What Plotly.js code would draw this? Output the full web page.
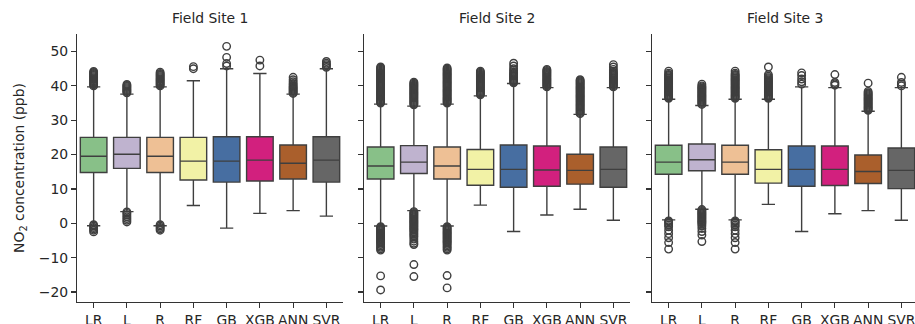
<!DOCTYPE html>
<html>
<head>
<meta charset="utf-8">
<script src="https://cdn.plot.ly/plotly-3.0.1.min.js"></script>
<style>
html, body { margin: 0; padding: 0; overflow: hidden; background: #fff; }
#chart { width: 918px; height: 324px; }
</style>
</head>
<body>
<div id="chart"></div>
<script>
const models = ['LR', 'L', 'R', 'RF', 'GB', 'XGB', 'ANN', 'SVR'];
const siteTitles = ['Field Site 1', 'Field Site 2', 'Field Site 3'];
const yTickValues = [-20, -10, 0, 10, 20, 30, 40, 50];

// Field Site 1
const site1_lowerWhisker = [-0.7, 3.4, -0.7, 5.2, -1.4, 2.9, 3.7, 2.1];
const site1_q1 = [14.8, 16.0, 14.8, 12.6, 12.0, 12.3, 12.9, 12.0];
const site1_median = [19.5, 20.1, 19.5, 18.1, 18.1, 18.4, 17.5, 18.4];
const site1_q3 = [25.0, 25.0, 25.0, 25.0, 25.2, 25.2, 22.8, 25.2];
const site1_upperWhisker = [39.7, 37.6, 39.7, 41.5, 45.0, 43.6, 37.6, 45.0];
const site1_outliers = [
  [40.0, 40.3, 40.6, 40.9, 41.2, 41.5, 41.8, 42.1, 42.4, 42.7, 43.0, 43.3, 43.6, 43.9, 44.2, -0.4, -0.8, -1.2, -1.6, -2.0, -2.5],
  [38.0, 38.3, 38.6, 38.9, 39.2, 39.5, 39.8, 40.1, 40.4, 3.3, 2.9, 2.4, 1.9, 1.4, 0.9, 0.4],
  [40.0, 40.3, 40.6, 40.9, 41.2, 41.5, 41.8, 42.1, 42.4, 42.7, 43.0, 43.3, 43.6, 44.0, -0.4, -0.8, -1.2, -1.6, -2.0],
  [45.0, 45.6],
  [45.8, 46.5, 48.3, 51.5],
  [45.8, 47.5],
  [37.8, 38.1, 38.4, 38.7, 39.0, 39.3, 39.6, 39.9, 40.3, 40.7, 41.2, 41.8, 42.5],
  [45.4, 45.8, 46.2, 46.6, 47.1]
];

// Field Site 2
const site2_lowerWhisker = [-0.8, 3.7, -0.8, 5.3, -2.4, 2.4, 4.1, 0.9];
const site2_q1 = [12.9, 14.5, 12.9, 11.1, 10.5, 10.8, 11.4, 10.5];
const site2_median = [16.7, 17.8, 16.7, 15.7, 15.7, 15.5, 15.4, 15.7];
const site2_q3 = [22.2, 22.6, 22.2, 21.5, 22.8, 22.5, 20.1, 22.2];
const site2_upperWhisker = [34.7, 34.1, 34.7, 37.1, 40.7, 39.5, 31.7, 39.5];
const site2_outliers = [
  [35.0, 35.3, 35.6, 35.9, 36.2, 36.5, 36.8, 37.1, 37.4, 37.7, 38.0, 38.3, 38.6, 38.9, 39.2, 39.5, 39.8, 40.1, 40.4, 40.7, 41.0,
   41.3, 41.6, 41.9, 42.2, 42.5, 42.8, 43.1, 43.4, 43.7, 44.0, 44.3, 44.6, 44.9, 45.2, 45.5,
   -1.0, -1.3, -1.6, -1.9, -2.2, -2.5, -2.8, -3.1, -3.4, -3.7, -4.0, -4.3, -4.6, -4.9, -5.2, -5.5, -5.8, -6.2, -6.6, -7.0, -7.4, -7.8, -15.3, -19.4],
  [34.5, 34.8, 35.1, 35.4, 35.7, 36.0, 36.3, 36.6, 36.9, 37.2, 37.5, 37.8, 38.1, 38.4, 38.7, 39.0, 39.3, 39.6, 39.9, 40.2, 40.5, 40.8, 41.1,
   3.4, 3.1, 2.8, 2.5, 2.2, 1.9, 1.6, 1.3, 1.0, 0.7, 0.4, 0.1, -0.2, -0.5, -0.8, -1.1, -1.4, -1.7, -2.0, -2.4, -2.8, -3.2, -3.6, -4.0, -4.6, -5.2, -5.8, -6.2, -12.0, -15.5],
  [35.0, 35.3, 35.6, 35.9, 36.2, 36.5, 36.8, 37.1, 37.4, 37.7, 38.0, 38.3, 38.6, 38.9, 39.2, 39.5, 39.8, 40.1, 40.4, 40.7, 41.0,
   41.3, 41.6, 41.9, 42.2, 42.5, 42.8, 43.1, 43.4, 43.7, 44.0, 44.3, 44.6, 44.9, 45.2,
   -1.0, -1.3, -1.6, -1.9, -2.2, -2.5, -2.8, -3.1, -3.4, -3.7, -4.0, -4.3, -4.6, -4.9, -5.2, -5.5, -5.8, -6.2, -6.6, -7.0, -7.4, -7.8, -15.2, -18.8],
  [37.4, 37.7, 38.0, 38.3, 38.6, 38.9, 39.2, 39.5, 39.8, 40.1, 40.4, 40.7, 41.0, 41.3, 41.6, 41.9, 42.2, 42.5, 42.8, 43.1, 43.4, 43.7, 44.0, 44.3],
  [40.9, 41.2, 41.5, 41.8, 42.1, 42.4, 42.7, 43.0, 43.3, 43.6, 44.0, 44.5, 45.0, 45.8, 46.6],
  [39.7, 40.0, 40.3, 40.6, 40.9, 41.2, 41.5, 41.8, 42.1, 42.4, 42.7, 43.0, 43.3, 43.6, 43.9, 44.2, 44.5, 44.8],
  [31.9, 32.2, 32.5, 32.8, 33.1, 33.4, 33.7, 34.0, 34.3, 34.6, 34.9, 35.2, 35.5, 35.8, 36.1, 36.4, 36.7, 37.0, 37.3, 37.6, 37.9,
   38.2, 38.5, 38.8, 39.1, 39.4, 39.7, 40.0, 40.3, 40.6, 40.9, 41.2, 41.5, 41.8],
  [39.7, 40.0, 40.3, 40.6, 40.9, 41.2, 41.5, 41.8, 42.1, 42.4, 42.7, 43.0, 43.3, 43.6, 43.9, 44.3, 44.8, 45.5, 46.2]
];

// Field Site 3
const site3_lowerWhisker = [1.0, 4.1, 1.0, 5.5, -2.4, 2.8, 3.7, 0.9];
const site3_q1 = [14.3, 15.3, 14.3, 11.7, 10.8, 11.0, 11.6, 10.1];
const site3_median = [17.8, 18.5, 17.8, 15.7, 15.7, 15.7, 15.1, 15.4];
const site3_q3 = [22.7, 23.1, 22.7, 21.4, 22.5, 22.5, 19.9, 21.9];
const site3_upperWhisker = [36.1, 34.3, 36.1, 36.1, 39.7, 39.5, 32.6, 39.5];
const site3_outliers = [
  [36.4, 36.7, 37.0, 37.3, 37.6, 37.9, 38.2, 38.5, 38.8, 39.1, 39.4, 39.7, 40.0, 40.3, 40.6, 40.9, 41.2, 41.5, 41.8, 42.1, 42.4, 42.7, 43.0, 43.3, 43.7, 44.3,
   0.7, 0.4, 0.0, -0.5, -1.0, -2.0, -3.0, -4.2, -5.6, -7.5],
  [34.6, 34.9, 35.2, 35.5, 35.8, 36.1, 36.4, 36.7, 37.0, 37.3, 37.6, 37.9, 38.2, 38.5, 38.8, 39.1, 39.4, 39.7, 40.0, 40.5,
   4.0, 3.7, 3.4, 3.1, 2.8, 2.5, 2.2, 1.9, 1.6, 1.3, 1.0, 0.7, 0.4, 0.1, -0.3, -0.8, -1.5, -2.4, -3.4, -5.3],
  [36.4, 36.7, 37.0, 37.3, 37.6, 37.9, 38.2, 38.5, 38.8, 39.1, 39.4, 39.7, 40.0, 40.3, 40.6, 40.9, 41.2, 41.5, 41.8, 42.1, 42.4, 42.7, 43.0, 43.3, 43.7, 44.3,
   0.7, 0.4, 0.0, -0.5, -1.0, -2.0, -3.0, -4.2, -5.6, -7.5],
  [36.4, 36.7, 37.0, 37.3, 37.6, 37.9, 38.2, 38.5, 38.8, 39.1, 39.4, 39.7, 40.0, 40.3, 40.6, 40.9, 41.2, 41.5, 41.8, 42.1, 42.4, 42.8, 43.3, 45.5],
  [40.5, 41.2, 42.0, 43.0, 43.8],
  [40.2, 40.6, 41.0, 43.3],
  [32.9, 33.2, 33.5, 33.8, 34.1, 34.4, 34.7, 35.0, 35.3, 35.6, 35.9, 36.2, 36.5, 36.8, 37.1, 37.4, 37.7, 38.0, 38.4, 40.8],
  [40.0, 40.5, 41.0, 42.5]
];

const boxColors = ['#88c088', '#bfb3cf', '#eec095', '#f2f2a6', '#476ea1', '#d2207e', '#aa5f2c', '#666666'];
const lineColor = '#3f3f3f';

const sites = [
  {lw: site1_lowerWhisker, q1: site1_q1, med: site1_median, q3: site1_q3, uw: site1_upperWhisker, out: site1_outliers},
  {lw: site2_lowerWhisker, q1: site2_q1, med: site2_median, q3: site2_q3, uw: site2_upperWhisker, out: site2_outliers},
  {lw: site3_lowerWhisker, q1: site3_q1, med: site3_median, q3: site3_q3, uw: site3_upperWhisker, out: site3_outliers}
];

const traces = [];
sites.forEach((s, si) => {
  const xa = si === 0 ? 'x' : 'x' + (si + 1);
  const ya = si === 0 ? 'y' : 'y' + (si + 1);
  models.forEach((m, mi) => {
    traces.push({
      type: 'box',
      x: [m],
      q1: [s.q1[mi]],
      median: [s.med[mi]],
      q3: [s.q3[mi]],
      lowerfence: [s.lw[mi]],
      upperfence: [s.uw[mi]],
      boxpoints: false,
      width: 0.8,
      whiskerwidth: 0.5,
      fillcolor: boxColors[mi],
      line: {color: lineColor, width: 1.4},
      xaxis: xa, yaxis: ya,
      hoverinfo: 'skip',
      showlegend: false
    });
  });
  const ox = [], oy = [];
  models.forEach((m, mi) => {
    s.out[mi].forEach(v => { ox.push(m); oy.push(v); });
  });
  traces.push({
    type: 'scatter', mode: 'markers',
    x: ox, y: oy,
    marker: {symbol: 'circle-open', size: 7.5, color: lineColor, line: {width: 1.4, color: lineColor}},
    xaxis: xa, yaxis: ya,
    hoverinfo: 'skip', showlegend: false
  });
});

const plotW = 841;
const domains = [[0, 266 / plotW], [287 / plotW, 553 / plotW], [575 / plotW, 1]];
const font = {family: 'DejaVu Sans, sans-serif', size: 13.9, color: '#262626'};

function xaxisCfg(d) {
  return {
    domain: d, type: 'category', categoryorder: 'array', categoryarray: models,
    range: [-0.5, 7.5], showline: true, linecolor: '#333', linewidth: 1.1,
    ticks: 'outside', ticklen: 5, tickwidth: 1.1, tickcolor: '#333',
    showgrid: false, zeroline: false, tickfont: font, fixedrange: true
  };
}
function yaxisCfg(anchor, labels) {
  return {
    anchor: anchor, range: [-22.9, 55.1], tickvals: yTickValues,
    ticktext: yTickValues.map(v => v < 0 ? '\u2212' + Math.abs(v) : String(v)),
    showline: true, linecolor: '#333', linewidth: 1.1,
    ticks: 'outside', ticklen: 5, tickwidth: 1.1, tickcolor: '#333',
    showgrid: false, zeroline: false, showticklabels: labels, tickfont: font, fixedrange: true
  };
}

const layout = {
  width: 918, height: 324,
  margin: {l: 77, r: 0, t: 34, b: 22},
  paper_bgcolor: '#fff', plot_bgcolor: '#fff',
  boxmode: 'overlay', showlegend: false, font: font,
  xaxis: Object.assign(xaxisCfg(domains[0]), {anchor: 'y'}),
  xaxis2: Object.assign(xaxisCfg(domains[1]), {anchor: 'y2'}),
  xaxis3: Object.assign(xaxisCfg(domains[2]), {anchor: 'y3'}),
  yaxis: Object.assign(yaxisCfg('x', true), {
    title: {text: 'NO<sub>2</sub> concentration (ppb)', font: font, standoff: 10}
  }),
  yaxis2: yaxisCfg('x2', false),
  yaxis3: yaxisCfg('x3', false),
  annotations: siteTitles.map((t, i) => ({
    text: t, xref: 'paper', yref: 'paper',
    x: (domains[i][0] + domains[i][1]) / 2, y: 1,
    xanchor: 'center', yanchor: 'bottom', yshift: 6,
    showarrow: false, font: {family: font.family, size: 13.9, color: '#262626'}
  }))
};

Plotly.newPlot('chart', traces, layout, {staticPlot: true, displayModeBar: false});
</script>
</body>
</html>
